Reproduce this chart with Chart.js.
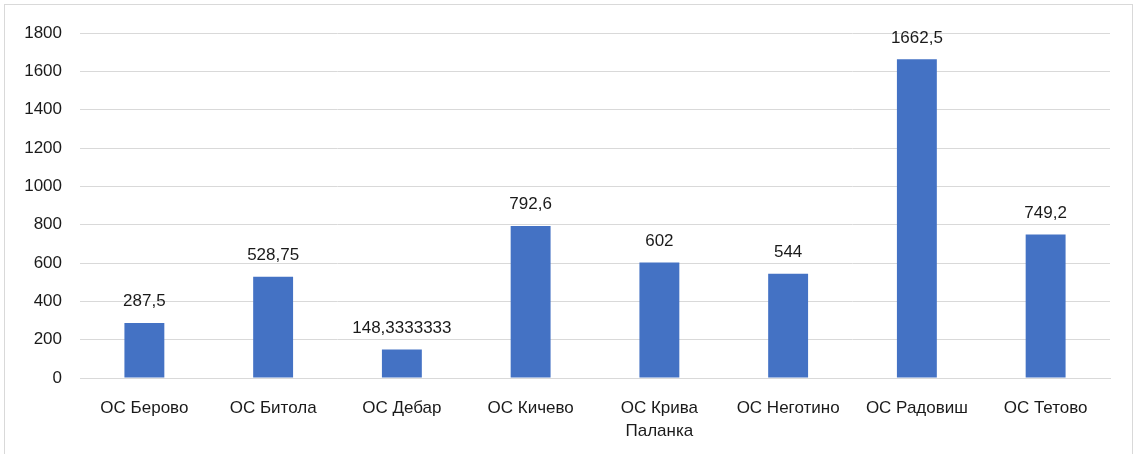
<!DOCTYPE html>
<html>
<head>
<meta charset="utf-8">
<script src="https://cdn.jsdelivr.net/npm/chart.js@4/dist/chart.umd.min.js"></script>
<style>
  html, body { margin: 0; padding: 0; background: #fff; overflow: hidden; }
  #frame { position: absolute; left: 4px; top: 4px; width: 1129px; height: 470px; border: 1px solid #d9d9d9; box-sizing: border-box; }
  #wrap { position: absolute; left: 0; top: 0; width: 1139px; height: 454px; }
</style>
</head>
<body>
<div id="frame"></div>
<div id="wrap"><canvas id="c" width="1139" height="454"></canvas></div>
<script>
// Offices and their average values
const categories = [
  'ОС Берово', 'ОС Битола', 'ОС Дебар', 'ОС Кичево',
  ['ОС Крива', 'Паланка'], 'ОС Неготино', 'ОС Радовиш', 'ОС Тетово'
];
const values = [287.5, 528.75, 148.3333333, 792.6, 602, 544, 1662.5, 749.2];
const valueLabels = ['287,5', '528,75', '148,3333333', '792,6', '602', '544', '1662,5', '749,2'];
const yTicks = [0, 200, 400, 600, 800, 1000, 1200, 1400, 1600, 1800];

const FONT = '"Liberation Sans", Arial, sans-serif';

// Writes each value label centred above its bar
const valueLabelPlugin = {
  id: 'valueLabels',
  afterDatasetsDraw(chart) {
    const ctx = chart.ctx;
    const meta = chart.getDatasetMeta(0);
    ctx.save();
    ctx.font = '17px ' + FONT;
    ctx.fillStyle = '#1a1a1a';
    ctx.textAlign = 'center';
    ctx.textBaseline = 'bottom';
    meta.data.forEach((bar, i) => {
      ctx.fillText(valueLabels[i], bar.x, bar.y - 13);
    });
    ctx.restore();
  }
};

new Chart(document.getElementById('c'), {
  type: 'bar',
  data: {
    labels: categories,
    datasets: [{
      data: values,
      backgroundColor: '#4472C4',
      borderWidth: 0,
      categoryPercentage: 1,
      barPercentage: 0.31
    }]
  },
  options: {
    responsive: false,
    animation: false,
    devicePixelRatio: 1,
    layout: { padding: { top: 33, right: 29, left: 0, bottom: 0 } },
    plugins: { legend: { display: false }, tooltip: { enabled: false } },
    scales: {
      x: {
        grid: { display: false },
        border: { display: true, color: '#d9d9d9', width: 1 },
        ticks: {
          color: '#1a1a1a',
          font: { family: FONT, size: 17, lineHeight: 1.35 },
          padding: 11,
          maxRotation: 0,
          autoSkip: false
        },
        afterFit(scale) { scale.height = 76; }
      },
      y: {
        min: 0,
        max: 1800,
        afterBuildTicks(scale) { scale.ticks = yTicks.map(v => ({ value: v })); },
        grid: { color: '#d9d9d9', lineWidth: 1, drawTicks: false },
        border: { display: false },
        ticks: {
          color: '#1a1a1a',
          font: { family: FONT, size: 17 },
          padding: 18,
          callback: (v) => String(v)
        },
        afterFit(scale) { scale.width = 80; }
      }
    }
  },
  plugins: [valueLabelPlugin]
});
</script>
</body>
</html>
